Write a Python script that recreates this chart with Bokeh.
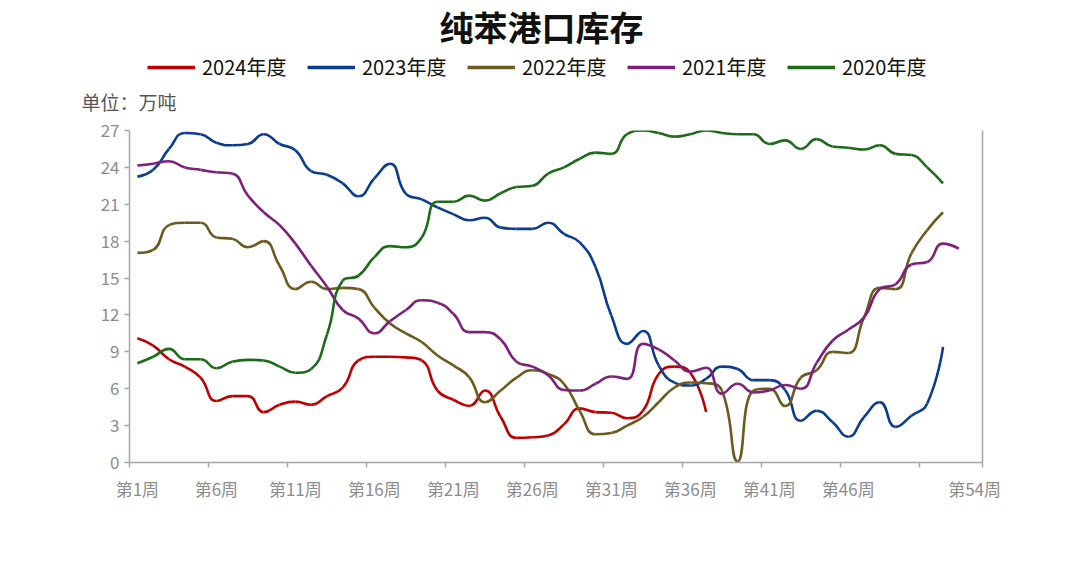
from bokeh.plotting import figure
from bokeh.layouts import column
from bokeh.models import (ColumnDataSource, Legend, LegendItem, FixedTicker,
                          LinearAxis, Label, Title, Range1d)
from bokeh.embed import file_html
from bokeh.resources import INLINE
import math

# ---------------- data ----------------
title_text = "纯苯港口库存"
unit_text = "单位：万吨"
series_names = ["2024年度", "2023年度", "2022年度", "2021年度", "2020年度"]
series_colors = ["#C00000", "#0A3D8F", "#6B5B1E", "#7E1F7B", "#1B6B17"]

y2024 = [10.1, 9.5, 8.4, 7.8, 6.9, 5.0, 5.4, 5.4, 4.1, 4.7,
         4.95, 4.7, 5.4, 6.1, 8.3, 8.6, 8.6, 8.55, 8.3, 5.85,
         5.1, 4.6, 5.85, 3.7, 2.0, 2.05, 2.2, 3.1, 4.4, 4.1,
         4.05, 3.6, 4.2, 7.2, 7.8, 7.3, 4.1]
y2023 = [23.25, 23.8, 25.5, 26.8, 26.7, 26.0, 25.8, 25.9, 26.7, 25.9,
         25.4, 23.7, 23.4, 22.7, 21.65, 23.1, 24.3, 21.85, 21.4, 20.75,
         20.2, 19.7, 19.9, 19.1, 19.0, 19.0, 19.5, 18.6, 17.9, 15.9,
         11.95, 9.65, 10.7, 7.9, 6.5, 6.26, 6.8, 7.8, 7.6, 6.7,
         6.7, 5.9, 3.4, 4.2, 3.3, 2.1, 3.7, 4.9, 2.9, 3.8,
         4.8, 9.4]
y2022 = [17.05, 17.3, 19.3, 19.5, 19.5, 18.3, 18.2, 17.5, 18.0, 16.0,
         14.1, 14.7, 14.1, 14.2, 14.1, 12.6, 11.3, 10.5, 9.8, 8.7,
         7.9, 6.95, 4.9, 5.85, 6.9, 7.5, 7.2, 6.4, 4.2, 2.3,
         2.4, 3.0, 3.7, 4.9, 6.1, 6.5, 6.45, 5.85, 0.1, 5.85,
         6.0, 4.6, 6.9, 7.5, 9.0, 8.9, 11.8, 14.2, 14.1, 17.0,
         18.9, 20.35]
y2021 = [24.15, 24.3, 24.5, 24.0, 23.8, 23.6, 23.5, 21.7, 20.35, 19.3,
         17.8, 16.0, 14.3, 12.4, 11.7, 10.5, 11.5, 12.4, 13.2, 13.0,
         12.1, 10.6, 10.6, 10.0, 8.2, 7.8, 7.1, 5.9, 5.85, 6.4,
         7.0, 6.8, 9.65, 9.2, 8.3, 7.4, 7.7, 5.6, 6.4, 5.7,
         5.85, 6.3, 6.0, 8.1, 9.9, 10.8, 11.8, 14.1, 14.5, 16.1,
         16.3, 17.8, 17.4]
y2020 = [8.07, 8.6, 9.24, 8.4, 8.4, 7.67, 8.2, 8.35, 8.3, 7.8,
         7.3, 7.6, 10.4, 14.8, 15.2, 16.7, 17.6, 17.5, 18.3, 21.2,
         21.2, 21.7, 21.3, 21.9, 22.4, 22.5, 23.5, 24.0, 24.7, 25.2,
         25.1, 26.7, 27.0, 26.8, 26.5, 26.7, 27.0, 26.8, 26.7, 26.7,
         25.9, 26.2, 25.5, 26.3, 25.7, 25.6, 25.45, 25.8, 25.1, 25.0,
         24.0, 22.7]
series_values = [y2024, y2023, y2022, y2021, y2020]

label_weeks = [1, 6, 11, 16, 21, 26, 31, 36, 41, 46, 54]
boundary_ticks = [0.5, 5.5, 10.5, 15.5, 20.5, 25.5, 30.5, 35.5, 40.5, 45.5, 50.5, 54.5]
y_ticks = [0, 3, 6, 9, 12, 15, 18, 21, 24, 27]

# ---------------- smoothing (echarts-like bezier control points) ----------------
KX, KY = 15.76, 12.3  # pixel per unit, used only to measure segment lengths


def bezier_source(values, smooth=0.5):
    pts = [((i + 1) * KX, v * KY) for i, v in enumerate(values)]
    n = len(pts)
    d = dict(x0=[], y0=[], x1=[], y1=[], cx0=[], cy0=[], cx1=[], cy1=[])
    cpx0, cpy0 = pts[0]
    for i in range(1, n):
        px_, py_ = pts[i - 1]
        x, y = pts[i]
        if i + 1 >= n:
            cpx1, cpy1 = x, y
            ncx, ncy = x, y
        else:
            nx, ny = pts[i + 1]
            vx, vy = nx - px_, ny - py_
            lp = math.hypot(x - px_, y - py_)
            ln = math.hypot(nx - x, ny - y)
            r = ln / (ln + lp)
            ncx = x + vx * smooth * r
            ncy = y + vy * smooth * r
            ncx = max(min(ncx, max(nx, x)), min(nx, x))
            ncy = max(min(ncy, max(ny, y)), min(ny, y))
            vx, vy = ncx - x, ncy - y
            cpx1 = x - vx * lp / ln
            cpy1 = y - vy * lp / ln
            cpx1 = max(min(cpx1, max(px_, x)), min(px_, x))
            cpy1 = max(min(cpy1, max(py_, y)), min(py_, y))
            vx, vy = x - cpx1, y - cpy1
            ncx = x + vx * ln / lp
            ncy = y + vy * ln / lp
        d["x0"].append(px_ / KX); d["y0"].append(py_ / KY)
        d["x1"].append(x / KX); d["y1"].append(y / KY)
        d["cx0"].append(cpx0 / KX); d["cy0"].append(cpy0 / KY)
        d["cx1"].append(cpx1 / KX); d["cy1"].append(cpy1 / KY)
        cpx0, cpy0 = ncx, ncy
    return ColumnDataSource(d)


FONT = "Noto Sans CJK SC"
AXIS_GRAY = "#A6A6A6"
LABEL_GRAY = "#8C8C8C"

# ---------------- header figure: title, legend, unit ----------------
HEAD_H = 115
HEAD_FRAME_H = 84
head = figure(width=1080, height=HEAD_H, output_backend="svg", toolbar_location=None,
              x_range=Range1d(129, 982), y_range=Range1d(0, HEAD_FRAME_H),
              min_border_left=129, min_border_right=98, min_border_top=0,
              min_border_bottom=HEAD_H - HEAD_FRAME_H)
head.axis.visible = False
head.grid.visible = False
head.outline_line_color = None

head.add_layout(Label(x=541, y=HEAD_FRAME_H - 25.5, text=title_text, text_font=FONT,
                      text_font_size="34px", text_font_style="bold",
                      text_color="#111111", text_align="center",
                      text_baseline="middle"))

unit = Title(text=unit_text, align="left", offset=-48, standoff=2,
             text_font=FONT, text_font_size="19px", text_font_style="normal",
             text_color="#555555")
head.add_layout(unit, "below")

items = []
for name, color in zip(series_names, series_colors):
    lr = head.line(x=[float("nan")], y=[float("nan")], line_color=color,
                   line_width=3.3)
    items.append(LegendItem(label=name, renderers=[lr]))
legend = Legend(items=items, orientation="horizontal", location=(18, 3),
                glyph_width=48, glyph_height=20, label_standoff=7, spacing=15,
                padding=0, margin=0, border_line_color=None,
                background_fill_alpha=0, label_text_font=FONT,
                label_text_font_size="20px", label_text_color="#111111",
                label_width=90, label_height=20)
head.add_layout(legend, "center")

# ---------------- main chart ----------------
p = figure(width=1080, height=565 - HEAD_H, output_backend="svg",
           toolbar_location=None,
           x_range=Range1d(0.5, 54.5), y_range=Range1d(0, 27),
           min_border_left=129, min_border_right=98, min_border_top=130 - HEAD_H,
           min_border_bottom=103)
p.outline_line_color = None
p.xgrid.visible = False
p.ygrid.visible = False

xa = p.xaxis[0]
xa.ticker = FixedTicker(ticks=label_weeks, minor_ticks=boundary_ticks)
xa.major_label_overrides = {w: f"第{w}周" for w in label_weeks}
xa.major_tick_line_color = None
xa.major_tick_out = 0
xa.major_tick_in = 0
xa.minor_tick_line_color = AXIS_GRAY
xa.minor_tick_line_width = 1.5
xa.minor_tick_out = 5
xa.minor_tick_in = 0
xa.axis_line_color = AXIS_GRAY
xa.axis_line_width = 1.5
xa.major_label_text_font = FONT
xa.major_label_text_font_size = "17px"
xa.major_label_text_color = LABEL_GRAY
xa.major_label_standoff = 8

ya = p.yaxis[0]
ya.ticker = FixedTicker(ticks=y_ticks)
ya.major_tick_line_color = AXIS_GRAY
ya.major_tick_line_width = 1.5
ya.major_tick_out = 5
ya.major_tick_in = 0
ya.minor_tick_line_color = None
ya.axis_line_color = AXIS_GRAY
ya.axis_line_width = 1.5
ya.major_label_text_font = FONT
ya.major_label_text_font_size = "17px"
ya.major_label_text_color = LABEL_GRAY
ya.major_label_standoff = 5

ra = LinearAxis(ticker=FixedTicker(ticks=[]))
ra.axis_line_color = AXIS_GRAY
ra.axis_line_width = 1.5
ra.major_tick_line_color = None
ra.minor_tick_line_color = None
ra.major_label_text_font_size = "0px"
p.add_layout(ra, "right")

for color, vals in zip(series_colors, series_values):
    src = bezier_source(vals)
    p.bezier(x0="x0", y0="y0", x1="x1", y1="y1", cx0="cx0", cy0="cy0",
             cx1="cx1", cy1="cy1", source=src, line_color=color,
             line_width=2.6)

layout = column(head, p, spacing=0)
open("out.html", "w").write(file_html(layout, INLINE))
